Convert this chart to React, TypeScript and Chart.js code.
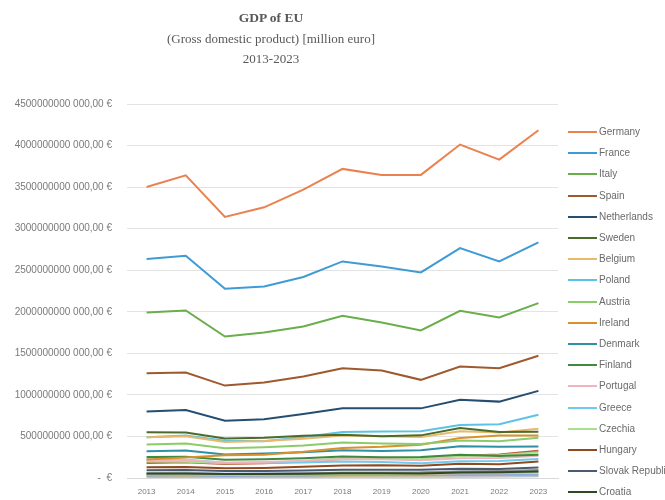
import React, { useEffect, useRef } from "react";
import { Chart, registerables } from "chart.js";
Chart.register(...registerables);

// GDP values in million euro
const years = ["2013", "2014", "2015", "2016", "2017", "2018", "2019", "2020", "2021", "2022", "2023"];
const germany = [3502000, 3642000, 3141000, 3257000, 3470000, 3719000, 3647000, 3647000, 4012000, 3831000, 4184000];
const france = [2635000, 2675000, 2277000, 2305000, 2418000, 2606000, 2546000, 2473000, 2767000, 2606000, 2835000];
const italy = [1992000, 2016000, 1703000, 1751000, 1823000, 1952000, 1871000, 1775000, 2012000, 1932000, 2104000];
const spain = [1261000, 1270000, 1112000, 1148000, 1221000, 1321000, 1293000, 1181000, 1341000, 1321000, 1470000];
const netherlands = [799000, 819000, 690000, 707000, 771000, 840000, 838000, 838000, 940000, 919000, 1048000];
const sweden = [550000, 546000, 474000, 483000, 507000, 521000, 501000, 513000, 601000, 554000, 556000];
const belgium = [489000, 502000, 433000, 446000, 471000, 510000, 502000, 493000, 563000, 547000, 593000];
const poland = [491000, 511000, 448000, 443000, 493000, 552000, 559000, 562000, 639000, 647000, 760000];
const austria = [403000, 415000, 358000, 371000, 391000, 427000, 416000, 408000, 450000, 442000, 484000];
const ireland = [224000, 246000, 273000, 281000, 315000, 361000, 375000, 400000, 481000, 511000, 511000];
const denmark = [322000, 331000, 283000, 294000, 311000, 334000, 325000, 333000, 383000, 376000, 379000];
const finland = [253000, 256000, 219000, 225000, 239000, 258000, 251000, 254000, 279000, 265000, 281000];
const portugal = [212000, 216000, 187000, 193000, 207000, 227000, 225000, 215000, 239000, 240000, 269000];
const greece = [225000, 221000, 184000, 181000, 187000, 199000, 192000, 177000, 202000, 205000, 228000];
const czechia = [199000, 196000, 176000, 184000, 205000, 234000, 237000, 231000, 265000, 273000, 310000];
const hungary = [128000, 132000, 117000, 121000, 134000, 150000, 154000, 147000, 171000, 166000, 200000];
const slovakia = [92000, 95000, 83000, 84000, 89000, 99000, 99000, 100000, 112000, 109000, 125000];
const croatia = [54000, 53000, 47000, 49000, 52000, 57000, 57000, 54000, 65000, 68000, 77000];
const romania = [179000, 188000, 167000, 176000, 199000, 228000, 235000, 235000, 267000, 282000, 329000];
const bulgaria = [52000, 53000, 47000, 51000, 55000, 62000, 64000, 66000, 79000, 84000, 96000];
const luxembourg = [58000, 62000, 54000, 56000, 59000, 67000, 66000, 69000, 81000, 77000, 81000];
const lithuania = [44000, 46000, 39000, 40000, 44000, 50000, 52000, 53000, 62000, 67000, 74000];
const slovenia = [45000, 47000, 40000, 42000, 46000, 51000, 51000, 51000, 58000, 56000, 65000];
const latvia = [28000, 29000, 25000, 26000, 28000, 32000, 32000, 32000, 37000, 38000, 40000];
const estonia = [23000, 24000, 22000, 23000, 25000, 28000, 29000, 29000, 35000, 36000, 38000];
const cyprus = [23000, 22000, 19000, 20000, 21000, 23000, 23000, 23000, 27000, 28000, 31000];
const malta = [8000, 9000, 9000, 10000, 12000, 14000, 14000, 14000, 16000, 17000, 20000];

const yTicks = [0, 500000, 1000000, 1500000, 2000000, 2500000, 3000000, 3500000, 4000000, 4500000];

const series: { name: string; data: number[]; color: string; legend: boolean }[] = [
  { name: "Germany", data: germany, color: "#E9824F", legend: true },
  { name: "France", data: france, color: "#3F9BD3", legend: true },
  { name: "Italy", data: italy, color: "#6AAE4B", legend: true },
  { name: "Spain", data: spain, color: "#9E5A2E", legend: true },
  { name: "Netherlands", data: netherlands, color: "#254E70", legend: true },
  { name: "Sweden", data: sweden, color: "#4A6B2A", legend: true },
  { name: "Belgium", data: belgium, color: "#E8B86B", legend: true },
  { name: "Poland", data: poland, color: "#5CC3E6", legend: true },
  { name: "Austria", data: austria, color: "#8CCB6A", legend: true },
  { name: "Ireland", data: ireland, color: "#D9912E", legend: true },
  { name: "Denmark", data: denmark, color: "#2F8FA3", legend: true },
  { name: "Finland", data: finland, color: "#3E8A3E", legend: true },
  { name: "Portugal", data: portugal, color: "#F0B4BE", legend: true },
  { name: "Greece", data: greece, color: "#6FCBEF", legend: true },
  { name: "Czechia", data: czechia, color: "#A8E08E", legend: true },
  { name: "Hungary", data: hungary, color: "#8E4A1F", legend: true },
  { name: "Slovak Republic", data: slovakia, color: "#4B5A6E", legend: true },
  { name: "Croatia", data: croatia, color: "#2E4A1E", legend: true },
  { name: "Romania", data: romania, color: "#C55A3A", legend: false },
  { name: "Bulgaria", data: bulgaria, color: "#8F8F8F", legend: false },
  { name: "Luxembourg", data: luxembourg, color: "#B4C7E7", legend: false },
  { name: "Lithuania", data: lithuania, color: "#A9D18E", legend: false },
  { name: "Slovenia", data: slovenia, color: "#F4B183", legend: false },
  { name: "Latvia", data: latvia, color: "#8FAADC", legend: false },
  { name: "Estonia", data: estonia, color: "#E6C35A", legend: false },
  { name: "Cyprus", data: cyprus, color: "#C9C9C9", legend: false },
  { name: "Malta", data: malta, color: "#9DC3E6", legend: false },
];

const fmt = (v: number) => (v === 0 ? "-  €" : `${v * 1000} 000,00 €`);

export default function App() {
  const ref = useRef<HTMLCanvasElement>(null);
  useEffect(() => {
    document.body.style.margin = "0";
    const chart = new Chart(ref.current!, {
      type: "line",
      data: {
        labels: years,
        datasets: series.map((s) => ({
          label: s.name,
          data: s.data,
          borderColor: s.color,
          backgroundColor: s.color,
          borderWidth: 2,
          pointRadius: 0,
          tension: 0,
          fill: false,
        })),
      },
      options: {
        responsive: false,
        animation: false,
        layout: { padding: { top: 104, right: 107, bottom: 0, left: 0 } },
        plugins: { legend: { display: false }, title: { display: false }, tooltip: { enabled: false } },
        scales: {
          x: {
            offset: true,
            grid: { display: false, drawTicks: false },
            border: { display: true, color: "#D9D9D9" },
            afterFit: (scale: any) => {
              scale.height = 22;
            },
            ticks: { color: "#7A7A7A", font: { family: "Liberation Sans", size: 8 }, padding: 9, maxRotation: 0 },
          },
          y: {
            min: 0,
            max: 4500000,
            afterBuildTicks: (scale: any) => {
              scale.ticks = yTicks.map((v) => ({ value: v }));
            },
            afterFit: (scale: any) => {
              scale.width = 127;
            },
            grid: { color: "#E3E3E3", drawTicks: false },
            border: { display: false },
            ticks: {
              color: "#7A7A7A",
              font: { family: "Liberation Sans", size: 10 },
              padding: 15,
              callback: (v: any) => fmt(Number(v)),
            },
          },
        },
      },
    });
    return () => chart.destroy();
  }, []);

  const legendItems = series.filter((s) => s.legend);
  const textColor = "#595959";
  return (
    <div style={{ position: "relative", width: 665, height: 500, overflow: "hidden", background: "#fff" }}>
      <canvas ref={ref} width={665} height={500} style={{ position: "absolute", left: 0, top: 0 }} />
      <div
        style={{
          position: "absolute",
          left: 0,
          top: 9,
          width: 542,
          textAlign: "center",
          fontFamily: "Liberation Serif",
          color: textColor,
        }}
      >
        <div style={{ fontWeight: "bold", fontSize: 13.5, lineHeight: "18px" }}>GDP of EU</div>
        <div style={{ fontSize: 13, lineHeight: "20px", marginTop: 2 }}>(Gross domestic product) [million euro]</div>
        <div style={{ fontSize: 13, lineHeight: "20px" }}>2013-2023</div>
      </div>
      {legendItems.map((s, i) => (
        <div
          key={s.name}
          style={{
            position: "absolute",
            left: 568,
            top: 132 + i * 21.2 - 7,
            height: 14,
            display: "flex",
            alignItems: "center",
            whiteSpace: "nowrap",
          }}
        >
          <span style={{ display: "inline-block", width: 29, height: 2, background: s.color }} />
          <span
            style={{
              marginLeft: 2,
              fontFamily: "Liberation Sans",
              fontSize: 10,
              color: "#6A6A6A",
              lineHeight: "14px",
            }}
          >
            {s.name}
          </span>
        </div>
      ))}
    </div>
  );
}
